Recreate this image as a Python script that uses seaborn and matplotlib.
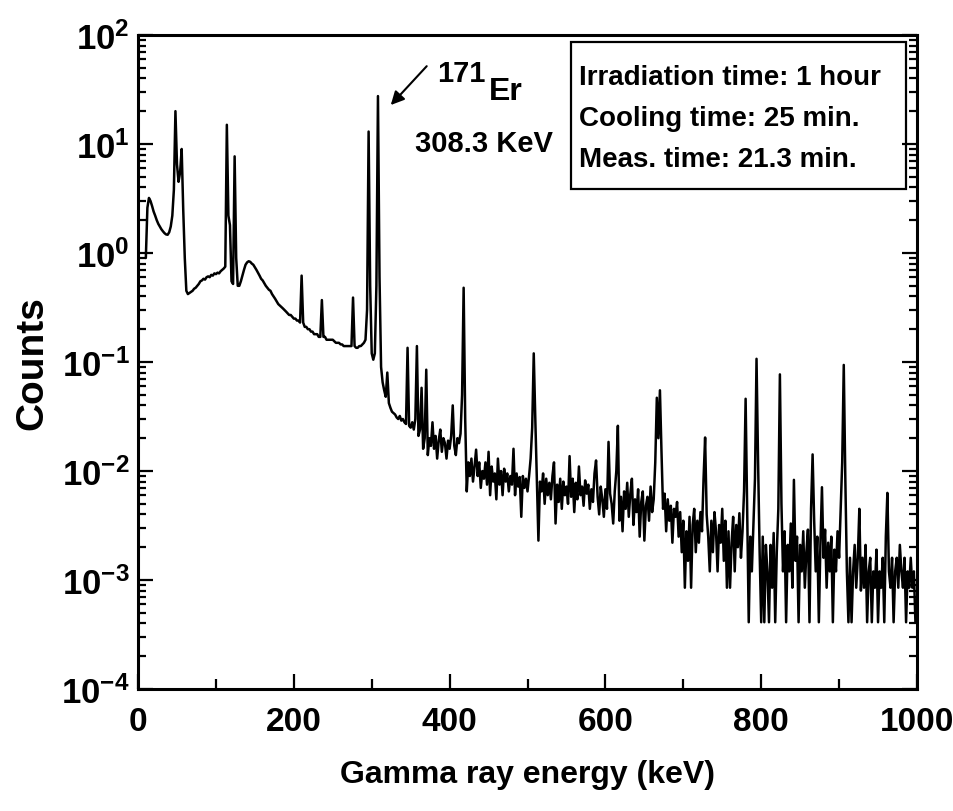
import numpy as np
import pandas as pd
import matplotlib
matplotlib.use("Agg")
import matplotlib.pyplot as plt
from matplotlib.ticker import FixedLocator, LogLocator, NullFormatter, FuncFormatter
from matplotlib.patches import Rectangle
import seaborn as sns

# ---------------- data ----------------
channel_start_kev = 10      # first channel energy
channel_width_kev = 2       # channel width

counts = [
    # 10 - 28 keV
    0.9, 2.6, 3.2, 3.0, 2.7, 2.4, 2.2, 2.0, 1.85, 1.75,
    # 30 - 48
    1.65, 1.58, 1.52, 1.48, 1.47, 1.55, 1.75, 2.2, 3.8, 20.0,
    # 50 - 68
    6.5, 4.5, 5.5, 9.0, 2.5, 0.9, 0.45, 0.42, 0.43, 0.44,
    # 70 - 88
    0.45, 0.47, 0.48, 0.50, 0.52, 0.55, 0.56, 0.58, 0.57, 0.60,
    # 90 - 108
    0.61, 0.60, 0.63, 0.62, 0.65, 0.64, 0.66, 0.65, 0.68, 0.70,
    # 110 - 128
    0.72, 0.75, 15.0, 2.2, 1.8, 0.55, 0.52, 7.7, 0.9, 0.50,
    # 130 - 148
    0.50, 0.55, 0.62, 0.70, 0.78, 0.82, 0.84, 0.83, 0.80, 0.78,
    # 150 - 168
    0.74, 0.70, 0.66, 0.62, 0.58, 0.56, 0.53, 0.50, 0.48, 0.46,
    # 170 - 188
    0.45, 0.42, 0.40, 0.38, 0.36, 0.34, 0.33, 0.32, 0.31, 0.30,
    # 190 - 208
    0.29, 0.28, 0.27, 0.27, 0.26, 0.25, 0.25, 0.24, 0.24, 0.23,
    # 210 - 228
    0.62, 0.23, 0.21, 0.21, 0.20, 0.20, 0.19, 0.19, 0.18, 0.18,
    # 230 - 248
    0.18, 0.17, 0.17, 0.37, 0.17, 0.17, 0.16, 0.16, 0.16, 0.16,
    # 250 - 268
    0.16, 0.155, 0.15, 0.15, 0.15, 0.145, 0.145, 0.14, 0.14, 0.14,
    # 270 - 288
    0.14, 0.14, 0.14, 0.39, 0.14, 0.135, 0.135, 0.14, 0.14, 0.145,
    # 290 - 308
    0.15, 0.16, 0.3, 13.0, 0.5, 0.12, 0.105, 0.12, 0.5, 27.5,
    # 310 - 328
    0.6, 0.09, 0.065, 0.055, 0.048, 0.08, 0.042, 0.038, 0.035, 0.034,
    # 330 - 348
    0.033, 0.031, 0.030, 0.032, 0.029, 0.030, 0.028, 0.027, 0.135, 0.026,
    # 350 - 368
    0.025, 0.028, 0.024, 0.03, 0.14, 0.021, 0.024, 0.058, 0.016, 0.02,
    # 370 - 388
    0.085, 0.014, 0.02, 0.017, 0.028, 0.016, 0.021, 0.013, 0.019, 0.024,
    # 390 - 408
    0.015, 0.02, 0.018, 0.013, 0.019, 0.016, 0.021, 0.04, 0.017, 0.014,
    # 410 - 428
    0.02, 0.018, 0.022, 0.05, 0.48, 0.03, 0.0065, 0.012, 0.009, 0.013,
    # 430 - 448
    0.008, 0.011, 0.0157, 0.009, 0.012, 0.007, 0.01, 0.0085, 0.012, 0.0075,
    # 450 - 468
    0.015, 0.006, 0.011, 0.008, 0.0095, 0.0055, 0.013, 0.0075, 0.01, 0.006,
    # 470 - 488
    0.0105, 0.008, 0.0095, 0.0065, 0.009, 0.0075, 0.016, 0.006, 0.0095, 0.0072,
    # 490 - 508
    0.0088, 0.0038, 0.009, 0.007, 0.0085, 0.0065, 0.009, 0.013, 0.025, 0.12,
    # 510 - 528
    0.03, 0.0085, 0.0023, 0.008, 0.0065, 0.0095, 0.005, 0.0085, 0.006, 0.0078,
    # 530 - 548
    0.0055, 0.009, 0.012, 0.0033, 0.0075, 0.0052, 0.0085, 0.0045, 0.008, 0.006,
    # 550 - 568
    0.0072, 0.005, 0.0137, 0.0058, 0.0085, 0.0042, 0.0078, 0.0055, 0.011, 0.006,
    # 570 - 588
    0.0072, 0.0048, 0.0082, 0.0062, 0.0075, 0.0045, 0.0068, 0.0052, 0.0095, 0.0125,
    # 590 - 608
    0.0058, 0.004, 0.0072, 0.0055, 0.0038, 0.0068, 0.0045, 0.0185, 0.0062, 0.005,
    # 610 - 628
    0.0033, 0.0065, 0.01, 0.026, 0.0035, 0.0058, 0.0028, 0.0065, 0.0045, 0.0078,
    # 630 - 648
    0.0038, 0.0062, 0.0085, 0.0032, 0.0055, 0.0042, 0.0068, 0.0025, 0.0052, 0.0065,
    # 650 - 668
    0.0023, 0.0048, 0.0058, 0.0035, 0.0072, 0.0042, 0.0055, 0.012, 0.047, 0.02,
    # 670 - 688
    0.055, 0.015, 0.0045, 0.0062, 0.0028, 0.0055, 0.0035, 0.0048, 0.0022, 0.0045,
    # 690 - 708
    0.0038, 0.0052, 0.0025, 0.0042, 0.0018, 0.0035, 0.00085, 0.0028, 0.0015, 0.0038,
    # 710 - 728
    0.00085, 0.0032, 0.0045, 0.0018, 0.0035, 0.0022, 0.0042, 0.0028, 0.0085, 0.0203,
    # 730 - 748
    0.004, 0.0025, 0.0012, 0.0035, 0.0018, 0.0042, 0.0028, 0.0012, 0.0032, 0.0022,
    # 750 - 768
    0.0045, 0.0015, 0.0035, 0.00085, 0.0028, 0.00085, 0.0022, 0.0038, 0.0012, 0.0032,
    # 770 - 788
    0.002, 0.0041, 0.0016, 0.0028, 0.0065, 0.046, 0.0041, 0.00041, 0.0025, 0.0012,
    # 790 - 808
    0.0032, 0.0085, 0.107, 0.012, 0.0018, 0.00041, 0.0025, 0.00041, 0.0021, 0.0012,
    # 810 - 828
    0.00041, 0.0021, 0.00085, 0.0027, 0.00041, 0.0018, 0.0045, 0.077, 0.005, 0.0012,
    # 830 - 848
    0.0028, 0.00041, 0.0021, 0.0012, 0.0033, 0.00085, 0.0083, 0.0015, 0.0025, 0.00041,
    # 850 - 868
    0.0021, 0.0012, 0.0028, 0.00085, 0.0018, 0.0029, 0.00041, 0.0045, 0.0142, 0.0035,
    # 870 - 888
    0.0012, 0.0025, 0.00041, 0.0021, 0.0071, 0.0016, 0.0029, 0.00085, 0.0022, 0.0012,
    # 890 - 908
    0.0025, 0.00041, 0.0019, 0.0012, 0.0028, 0.0016, 0.0045, 0.012, 0.094, 0.0085,
    # 910 - 928
    0.0012, 0.00041, 0.0016, 0.00041, 0.0012, 0.0021, 0.00085, 0.0016, 0.0045, 0.0008,
    # 930 - 948
    0.0016, 0.00085, 0.0021, 0.00041, 0.0012, 0.0016, 0.00041, 0.0012, 0.00085, 0.0019,
    # 950 - 968
    0.00041, 0.0012, 0.00085, 0.0016, 0.00041, 0.0025, 0.0063, 0.0012, 0.00085, 0.0016,
    # 970 - 988
    0.00041, 0.0012, 0.0016, 0.00085, 0.0021, 0.0012, 0.00085, 0.0016, 0.00041, 0.0012,
    # 990 - 998
    0.00085, 0.0016, 0.00085, 0.0012, 0.00041,
]

x_tick_values = [0, 200, 400, 600, 800, 1000]
y_decades = [-4, -3, -2, -1, 0, 1, 2]
info_lines = ["Irradiation time: 1 hour", "Cooling time: 25 min.", "Meas. time: 21.3 min."]
peak_energy_label = "308.3 KeV"

energy = channel_start_kev + channel_width_kev * np.arange(len(counts))
df = pd.DataFrame({"energy": energy, "counts": counts})

# ---------------- styling ----------------
sns.set_theme(style="ticks")
plt.rcParams["font.family"] = ["Liberation Sans", "DejaVu Sans"]
plt.rcParams["font.weight"] = "bold"
plt.rcParams["text.color"] = "black"
plt.rcParams["axes.labelcolor"] = "black"
plt.rcParams["xtick.color"] = "black"
plt.rcParams["ytick.color"] = "black"
plt.rcParams["mathtext.fontset"] = "custom"
plt.rcParams["mathtext.rm"] = "Liberation Sans"
plt.rcParams["mathtext.bf"] = "Liberation Sans:bold"

fig = plt.figure(figsize=(9.54, 8.12), dpi=100)
ax = fig.add_axes([0.1447, 0.1502, 0.8165, 0.8055])

sns.lineplot(data=df, x="energy", y="counts", color="black", linewidth=1.8,
             estimator=None, sort=False, ax=ax)

ax.set_yscale("log")
ax.set_xlim(0, 1000)
ax.set_ylim(1e-4, 1e2)

for s in ax.spines.values():
    s.set_linewidth(2.2)
    s.set_color("black")

ax.xaxis.set_major_locator(FixedLocator(x_tick_values))
ax.xaxis.set_minor_locator(FixedLocator([100, 300, 500, 700, 900]))
ax.yaxis.set_major_locator(FixedLocator([10.0 ** d for d in y_decades]))
ax.yaxis.set_minor_locator(LogLocator(base=10, subs=np.arange(2, 10), numticks=20))
ax.yaxis.set_minor_formatter(NullFormatter())
ax.yaxis.set_major_formatter(FuncFormatter(
    lambda v, p: r"$\mathbf{10^{%d}}$" % int(round(np.log10(v)))))

ax.tick_params(axis="x", which="both", direction="in", bottom=True, top=False,
               width=1.6, color="black", labelcolor="black")
ax.tick_params(axis="x", which="major", length=11, pad=12, labelsize=24)
ax.tick_params(axis="x", which="minor", length=7)
ax.tick_params(axis="y", which="both", direction="in", left=True, right=True,
               width=1.6, color="black", labelcolor="black")
ax.tick_params(axis="y", which="major", length=11, pad=6, labelsize=25)
ax.tick_params(axis="y", which="minor", length=6)
for lab in ax.get_xticklabels():
    lab.set_fontweight("bold")

ax.set_xlabel("Gamma ray energy (keV)", fontsize=23, fontweight="bold",
              labelpad=16, color="black")
ax.set_ylabel("Counts", fontsize=28, fontweight="bold", labelpad=8, color="black")

# annotation for the 171Er peak
ax.text(384, 37.8, "171", fontsize=21, fontweight="bold", ha="left", va="baseline")
ax.text(450, 25.8, "Er", fontsize=23, fontweight="bold", ha="left", va="baseline")
ax.text(355, 8.6, peak_energy_label, fontsize=21, fontweight="bold",
        ha="left", va="baseline")
ax.annotate("", xy=(322, 21.8), xytext=(373, 54),
            arrowprops=dict(arrowstyle="-|>", color="black", lw=1.5,
                            mutation_scale=20))

# info box
ax.add_patch(Rectangle((0.556, 0.765), 0.43, 0.225, transform=ax.transAxes,
                       fill=False, edgecolor="black", linewidth=1.6))
for i, line in enumerate(info_lines):
    ax.text(0.566, 0.935 - i * 0.062, line, transform=ax.transAxes,
            fontsize=20, fontweight="bold", ha="left", va="center")

fig.savefig("out.png", dpi=100, facecolor="white")
